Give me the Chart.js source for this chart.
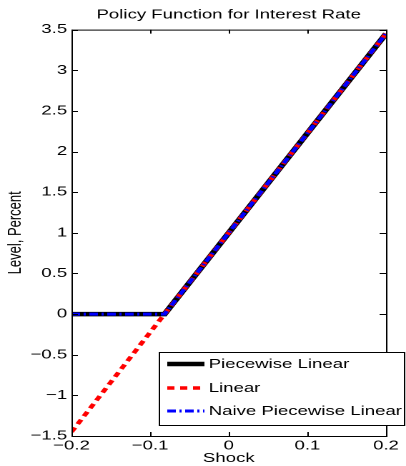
<!DOCTYPE html>
<html>
<head>
<meta charset="utf-8">
<script src="https://cdn.jsdelivr.net/npm/chart.js@4.4.1/dist/chart.umd.min.js"></script>
<style>
  html, body { margin: 0; padding: 0; background: #fff; overflow: hidden; }
  /* the reference figure is stretched sideways, so the canvas is too */
  #myChart { transform-origin: 0 0; transform: scaleX(1.4296); }
</style>
</head>
<body>
<canvas id="myChart" width="284" height="466"></canvas>
<script>
// values
const shock = [-0.2, -0.0816, 0.2];
const piecewise = [0, 0, 3.45];
const linear = [-1.45, 0, 3.45];
const naive = [0, 0, 3.45];
const labels = ['Piecewise Linear', 'Linear', 'Naive Piecewise Linear'];

const puntos = ys => shock.map((x, i) => ({x: x, y: ys[i]}));
const formato = v => Number(Number(v).toFixed(2)).toString().replace('-', '\u2212');

Chart.defaults.font.family = "'Liberation Sans', Arial, sans-serif";
Chart.defaults.font.size = 13;
Chart.defaults.color = '#000';

// inward ticks on all four sides, the frame, and the legend box
const marco = {
    id: 'marco',
    afterDatasetsDraw(chart) {
        const ctx = chart.ctx;
        const a = chart.chartArea;
        const sx = chart.scales.x, sy = chart.scales.y;
        ctx.save();
        ctx.strokeStyle = '#000';
        ctx.lineWidth = 1;
        ctx.beginPath();
        sx.ticks.forEach(t => {
            const px = Math.round(sx.getPixelForValue(t.value)) + 0.5;
            ctx.moveTo(px, a.bottom); ctx.lineTo(px, a.bottom - 4);
            ctx.moveTo(px, a.top); ctx.lineTo(px, a.top + 4);
        });
        sy.ticks.forEach(t => {
            const py = Math.round(sy.getPixelForValue(t.value)) + 0.5;
            ctx.moveTo(a.left, py); ctx.lineTo(a.left + 4.5, py);
            ctx.moveTo(a.right, py); ctx.lineTo(a.right - 4.5, py);
        });
        ctx.stroke();
        ctx.strokeRect(a.left + 0.5, a.top + 0.5, a.right - a.left, a.bottom - a.top);

        // legend
        const lx = 111, ly = 352, lw = 171.5, lh = 73;
        ctx.fillStyle = '#fff';
        ctx.fillRect(lx, ly, lw, lh);
        ctx.strokeRect(lx + 0.5, ly + 0.5, lw, lh);
        const filas = [364, 388, 411];
        chart.data.datasets.forEach((ds, i) => {
            ctx.beginPath();
            ctx.strokeStyle = ds.borderColor;
            ctx.lineWidth = ds.borderWidth;
            ctx.setLineDash(ds.borderDash || []);
            ctx.moveTo(117, filas[i]);
            ctx.lineTo(143, filas[i]);
            ctx.stroke();
            ctx.setLineDash([]);
            ctx.fillStyle = '#000';
            ctx.font = "13px 'Liberation Sans', Arial, sans-serif";
            ctx.textBaseline = 'middle';
            ctx.fillText(ds.label, 146, filas[i] + 0.5);
        });
        ctx.restore();
    }
};

const ctx = document.getElementById('myChart').getContext('2d');
new Chart(ctx, {
    type: 'line',
    data: {
        datasets: [{
            label: labels[0],
            data: puntos(piecewise),
            borderColor: '#000000',
            borderWidth: 4.5,
            order: 3
        }, {
            label: labels[1],
            data: puntos(linear),
            borderColor: '#ff0000',
            borderWidth: 3.5,
            borderDash: [5, 4],
            order: 2
        }, {
            label: labels[2],
            data: puntos(naive),
            borderColor: '#0000ff',
            borderWidth: 3,
            borderDash: [6, 2.5, 1.5, 2.5],
            order: 1
        }]
    },
    options: {
        responsive: false,
        devicePixelRatio: 2,
        animation: false,
        elements: { point: { radius: 0 }, line: { tension: 0 } },
        layout: { padding: { top: 0, right: 14, bottom: 0, left: 0 } },
        plugins: {
            legend: { display: false },
            tooltip: { enabled: false },
            title: {
                display: true,
                text: 'Policy Function for Interest Rate',
                fullSize: false,
                font: { size: 13, weight: 'normal' },
                padding: { top: 7, bottom: 7 }
            }
        },
        scales: {
            x: {
                type: 'linear',
                min: -0.2,
                max: 0.2,
                afterFit: s => { s.height = 30; },
                grid: { display: false, drawTicks: false },
                border: { display: false },
                ticks: { stepSize: 0.1, padding: 2, callback: formato, maxRotation: 0 },
                title: { display: true, text: 'Shock', padding: { top: 0, bottom: 0 } }
            },
            y: {
                min: -1.5,
                max: 3.5,
                afterFit: s => { s.width = 50; },
                grid: { display: false, drawTicks: false },
                border: { display: false },
                ticks: { stepSize: 0.5, padding: 3, callback: formato },
                title: { display: true, text: 'Level, Percent', padding: { top: 3, bottom: 0 } }
            }
        }
    },
    plugins: [marco]
});
</script>
</body>
</html>
